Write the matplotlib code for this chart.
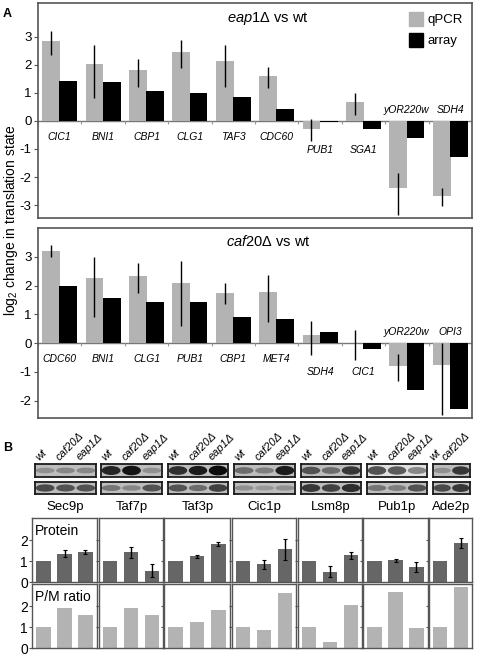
import numpy as np
import matplotlib.pyplot as plt
from matplotlib.patches import Patch, Ellipse

plt.rcParams["font.family"] = ["Liberation Sans", "DejaVu Sans"]
plt.rcParams["mathtext.fontset"] = "custom"
plt.rcParams["mathtext.rm"] = "Liberation Sans"
plt.rcParams["mathtext.it"] = "Liberation Sans:italic"
plt.rcParams["axes.unicode_minus"] = False

# ---- panel A data ----
genes_eap1 = ["CIC1", "BNI1", "CBP1", "CLG1", "TAF3", "CDC60", "PUB1", "SGA1", "yOR220w", "SDH4"]
qpcr_eap1 = [2.83, 2.03, 1.80, 2.47, 2.15, 1.60, -0.30, 0.67, -2.40, -2.68]
qpcr_eap1_lo = [2.35, 0.82, 1.20, 1.90, 1.20, 1.17, -0.70, 0.20, -3.35, -3.05]
qpcr_eap1_hi = [3.20, 2.70, 2.20, 2.87, 2.70, 1.92, 0.05, 1.00, -1.85, -2.40]
array_eap1 = [1.42, 1.38, 1.05, 0.98, 0.85, 0.44, -0.05, -0.30, -0.62, -1.28]

genes_caf20 = ["CDC60", "BNI1", "CLG1", "PUB1", "CBP1", "MET4", "SDH4", "CIC1", "yOR220w", "OPI3"]
qpcr_caf20 = [3.20, 2.28, 2.35, 2.10, 1.75, 1.78, 0.28, 0.00, -0.78, -0.75]
qpcr_caf20_lo = [3.00, 0.92, 1.75, 0.58, 1.35, 0.75, -0.42, -0.60, -1.32, -2.50]
qpcr_caf20_hi = [3.42, 3.00, 2.80, 2.85, 2.08, 2.38, 0.78, 0.47, -0.38, 0.00]
array_caf20 = [1.97, 1.57, 1.43, 1.43, 0.90, 0.83, 0.38, -0.20, -1.62, -2.28]

# ---- panel B data ----
proteins = ["Sec9p", "Taf7p", "Taf3p", "Cic1p", "Lsm8p", "Pub1p", "Ade2p"]
strains = ["wt", "caf20Δ", "eap1Δ"]
protein_level = [[1, 1.37, 1.45], [1, 1.42, 0.55], [1, 1.23, 1.82], [1, 0.85, 1.58],
                 [1, 0.50, 1.28], [1, 1.05, 0.72], [1, 1.88]]
protein_err = [[0, 0.15, 0.09], [0, 0.27, 0.33], [0, 0.08, 0.11], [0, 0.21, 0.50],
               [0, 0.25, 0.17], [0, 0.07, 0.22], [0, 0.25]]
pm_ratio = [[1, 1.93, 1.57], [1, 1.93, 1.57], [1, 1.25, 1.83], [1, 0.87, 2.67],
            [1, 0.28, 2.05], [1, 2.70, 0.98], [1, 2.92]]
band_top = [[0.25, 0.3, 0.3], [0.85, 0.95, 0.25], [0.8, 0.9, 1.0], [0.45, 0.35, 0.9],
            [0.6, 0.45, 0.75], [0.8, 0.75, 0.5], [0.25, 0.75]]
band_bottom = [[0.65, 0.6, 0.6], [0.4, 0.3, 0.6], [0.6, 0.45, 0.7], [0.25, 0.2, 0.25],
               [0.75, 0.7, 0.8], [0.4, 0.35, 0.6], [0.65, 0.75]]

GRAY = "#b3b3b3"
FRAME = "#555555"
W, H = 483, 657


def fig_rect(x0, y0, x1, y1):
    return [x0 / W, 1 - y1 / H, (x1 - x0) / W, (y1 - y0) / H]


def frame(ax, lw=1.2, color=FRAME):
    for s in ax.spines.values():
        s.set_color(color)
        s.set_linewidth(lw)


def plot_compare(ax, genes, qpcr, lo, hi, arr, title, ylim):
    x = np.arange(len(genes))
    ax.bar(x - 0.2, qpcr, 0.41, color=GRAY, zorder=2)
    ax.bar(x + 0.2, arr, 0.41, color="black", zorder=2)
    ax.vlines(x - 0.2, lo, hi, color="black", lw=1, zorder=3)
    ax.axhline(0, color="#777777", lw=1, zorder=1)
    ax.vlines(np.arange(len(genes) + 1) - 0.5, 0, -0.1, color="#999999", lw=0.8)
    ax.set_xlim(-0.5, len(genes) - 0.5)
    ax.set_ylim(*ylim)
    ax.set_xticks([])
    ax.set_yticks(np.arange(int(np.ceil(ylim[0])), 4))
    ax.tick_params(axis="y", labelsize=9.5, length=3, pad=1.5, color=FRAME)
    frame(ax)
    for i, g in enumerate(genes):
        low = min(qpcr[i], arr[i])
        if low < -0.5:
            dy = 11
        elif lo[i] < -0.1 or low < 0:
            dy = -29
        else:
            dy = -16
        ax.annotate(g, (i, 0), xytext=(0, dy), textcoords="offset pixels",
                    ha="center", va="center", fontsize=7.5, style="italic")
    ax.text(0.53, 0.93, title, transform=ax.transAxes, ha="center", va="center", fontsize=10.5)


fig = plt.figure(figsize=(W / 100, H / 100), dpi=100)

ax1 = fig.add_axes(fig_rect(38, 3, 472, 218))
plot_compare(ax1, genes_eap1, qpcr_eap1, qpcr_eap1_lo, qpcr_eap1_hi, array_eap1,
             r"$\mathit{eap1}\Delta$ vs wt", (-3.46, 4.2))
ax1.legend(handles=[Patch(color=GRAY, label="qPCR"), Patch(color="black", label="array")],
           loc="upper right", frameon=False, fontsize=9.5, handlelength=1.1, handleheight=1.2,
           handletextpad=0.3, borderaxespad=0.3, labelspacing=0.5)

ax2 = fig.add_axes(fig_rect(38, 228, 472, 418))
plot_compare(ax2, genes_caf20, qpcr_caf20, qpcr_caf20_lo, qpcr_caf20_hi, array_caf20,
             r"$\mathit{caf20}\Delta$ vs wt", (-2.6, 4.0))

fig.text(11 / W, 1 - 220 / H, r"log$_2$ change in translation state", rotation=90,
         ha="center", va="center", fontsize=10)
fig.text(3 / W, 1 - 14 / H, "A", fontsize=9, fontweight="bold", va="center")
fig.text(3 / W, 1 - 448 / H, "B", fontsize=9, fontweight="bold", va="center")

# ---- panel B ----
blot_x = [(35, 96), (101, 162), (168, 228), (234, 295), (301, 361), (367, 427), (433, 470)]
panel_x = [(32, 97), (99, 163), (164, 230), (232, 296), (298, 362), (363, 428), (429, 472)]

for k, name in enumerate(proteins):
    n = len(protein_level[k])
    bx0, bx1 = blot_x[k]
    for (y0, y1, bands) in [(464, 477, band_top[k]), (482, 494, band_bottom[k])]:
        bax = fig.add_axes(fig_rect(bx0, y0, bx1, y1))
        bg = 0.88 if (name == "Pub1p" and y0 == 464) else 0.74
        bax.set_facecolor(str(bg))
        for i, d in enumerate(bands):
            bax.add_patch(Ellipse((i, 0.5), 0.85, 0.2 + 0.45 * d,
                                  color=str(max(bg - 0.7 * d, 0.05))))
        bax.set_xlim(-0.5, n - 0.5)
        bax.set_ylim(0, 1)
        bax.set_xticks([])
        bax.set_yticks([])
        frame(bax, 1.3, "#1a1a1a")
    lane_w = (bx1 - bx0) / 3
    for i in range(n):
        fig.text((bx0 + lane_w * (i + 0.5) - 4) / W, 1 - 462 / H, strains[i], rotation=45,
                 rotation_mode="anchor", ha="left", va="bottom", fontsize=8, style="italic")
    fig.text((bx0 + bx1) / 2 / W, 1 - 507 / H, name, ha="center", va="center", fontsize=9.5)

    px0, px1 = panel_x[k]
    for (y0, y1, vals, err, col, lab) in [
        (518, 582, protein_level[k], protein_err[k], "#666666", "Protein"),
        (584, 648, pm_ratio[k], None, GRAY, "P/M ratio"),
    ]:
        pax = fig.add_axes(fig_rect(px0, y0, px1, y1))
        xi = np.arange(n)
        pax.bar(xi, vals, 0.68, color=col)
        if err is not None:
            pax.errorbar(xi[1:], vals[1:], yerr=err[1:], fmt="none", ecolor="black",
                         elinewidth=1, capsize=1.5, capthick=0.8)
        pax.set_xlim(-0.55, n - 0.45)
        pax.set_ylim(0, 3.08)
        pax.set_xticks([])
        pax.set_yticks([0, 1, 2])
        pax.tick_params(axis="y", length=2, labelsize=10, pad=1, color=FRAME)
        if k > 0:
            pax.set_yticklabels([])
        else:
            pax.text(0.05, 0.8, lab, transform=pax.transAxes, fontsize=10, va="center")
        frame(pax, 1.0)

fig.savefig("out.png", dpi=100)
